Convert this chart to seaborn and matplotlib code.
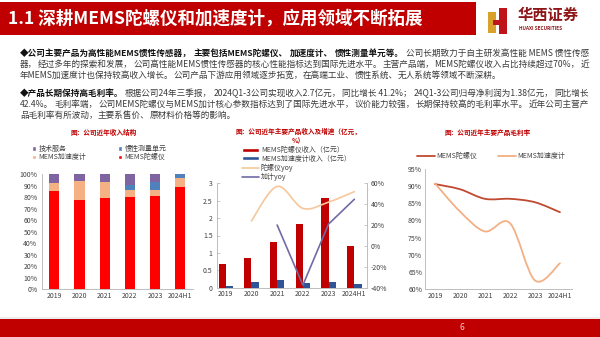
import re
import numpy as np
import pandas as pd
import matplotlib
matplotlib.use("Agg")
import matplotlib.pyplot as plt
from matplotlib.patches import Rectangle, PathPatch, Patch
from matplotlib.path import Path
from matplotlib.lines import Line2D
import seaborn as sns

sns.set_theme(style="white")
plt.rcParams['font.family'] = ['Noto Sans CJK SC', 'DejaVu Sans']
plt.rcParams['axes.unicode_minus'] = False

# ---------------- data ----------------
years = ["2019", "2020", "2021", "2022", "2023", "2024H1"]

# chart 1: revenue structure (%)
share_gyro = [85.8, 77.4, 79.7, 80.3, 81.4, 89.3]
share_accel = [6.4, 16.8, 13.6, 5.8, 5.3, 7.5]
share_imu = [0.0, 0.0, 0.0, 4.9, 6.9, 3.2]
share_service = [7.8, 5.8, 6.7, 9.0, 6.4, 0.0]
c1_labels = ["技术服务", "惯性测量单元", "MEMS加速度计", "MEMS陀螺仪"]
c1_yticks = [0, 10, 20, 30, 40, 50, 60, 70, 80, 90, 100]

# chart 2: revenue (亿元) and yoy (%)
rev_gyro = [0.67, 0.84, 1.32, 1.82, 2.59, 1.21]
rev_accel = [0.05, 0.16, 0.21, 0.13, 0.15, 0.10]
yoy_gyro = [np.nan, 24.0, 57.0, 36.0, 42.0, 52.0]
yoy_accel = [np.nan, np.nan, 20.0, -37.5, 21.0, 44.7]
c2_labels = ["MEMS陀螺仪收入（亿元）", "MEMS加速度计收入（亿元）", "陀螺仪yoy", "加计yoy"]
c2_left_ticks = [0, 0.5, 1, 1.5, 2, 2.5, 3]
c2_left_ticklabels = ["0", "0.5", "1", "1.5", "2", "2.5", "3"]
c2_right_ticks = [-40, -20, 0, 20, 40, 60]

# chart 3: gross margin (%)
gm_gyro = [90.6, 89.1, 86.3, 86.3, 85.3, 82.4]
gm_accel = [90.8, 82.6, 76.8, 79.2, 62.5, 67.5]
c3_labels = ["MEMS陀螺仪", "MEMS加速度计"]
c3_yticks = [60, 65, 70, 75, 80, 85, 90, 95]

title = "1.1 深耕MEMS陀螺仪和加速度计，应用领域不断拓展"
chart_titles = ["图：公司近年收入结构", "图：公司近年主要产品收入及增速（亿元，\n%）", "图：公司近年主要产品毛利率"]
para_lines = [
    [("◆公司主要产品为高性能MEMS惯性传感器，主要包括MEMS陀螺仪、加速度计、惯性测量单元等。", "bold"),
     ("公司长期致力于自主研发高性能 MEMS 惯性传感", "normal")],
    [("器，经过多年的探索和发展，公司高性能MEMS惯性传感器的核心性能指标达到国际先进水平。主营产品端，MEMS陀螺仪收入占比持续超过70%，近", "normal")],
    [("年MEMS加速度计也保持较高收入增长。公司产品下游应用领域逐步拓宽，在高端工业、惯性系统、无人系统等领域不断深耕。", "normal")],
    [("◆产品长期保持高毛利率。", "bold"),
     ("根据公司24年三季报，2024Q1-3公司实现收入2.7亿元，同比增长 41.2%；24Q1-3公司归母净利润为1.38亿元，同比增长", "normal")],
    [("42.4%。毛利率端，公司MEMS陀螺仪与MEMS加计核心参数指标达到了国际先进水平，议价能力较强，长期保持较高的毛利率水平。近年公司主营产", "normal")],
    [("品毛利率有所波动，主要系售价、原材料价格等的影响。", "normal")],
]
para_y = [53, 64.5, 75.5, 93, 104.5, 115.5]
para_justify = [True, True, False, True, True, False]

# ---------------- figure ----------------
W, H = 600, 337
fig = plt.figure(figsize=(6, 3.37), dpi=100)
fig.patch.set_facecolor("white")
renderer = fig.canvas.get_renderer()

def fx(px):
    return px / W

def fy(py):
    return 1 - py / H

RED = "#C00000"

# header band
fig.add_artist(Rectangle((0, fy(35)), fx(476), 33 / H, transform=fig.transFigure,
                         facecolor=RED, edgecolor="none", zorder=0))
t = fig.text(fx(8), fy(18.5), title, color="white", fontsize=12, weight="bold",
             va="center", ha="left")
w = t.get_window_extent(renderer).width
t.set_fontsize(12 * 414 / w)

# logo
fig.add_artist(Rectangle((fx(488), fy(33)), fx(8), 21 / H, transform=fig.transFigure,
                         facecolor="#D9A02B", edgecolor="none"))
fig.add_artist(Rectangle((fx(499), fy(34)), fx(8), 26 / H, transform=fig.transFigure,
                         facecolor="#C0141B", edgecolor="none"))
fig.add_artist(Rectangle((fx(493), fy(25)), fx(7), 5 / H, transform=fig.transFigure,
                         facecolor="#C0141B", edgecolor="none"))
fig.text(fx(518), fy(15), "华西证券", color="#8E1518", fontsize=11, weight="bold",
         va="center", ha="left")
fig.text(fx(519), fy(29), "HUAXI SECURITIES", color="#8E1518", fontsize=3.4,
         weight="bold", va="center", ha="left")

# footer
fig.add_artist(Rectangle((0, fy(318.5)), fx(600), 2 / H, transform=fig.transFigure,
                         facecolor="#EDEDED", edgecolor="none"))
fig.add_artist(Rectangle((0, 0), 1, 18.5 / H, transform=fig.transFigure,
                         facecolor=RED, edgecolor="none"))
fig.text(fx(462), fy(327.5), "6", color="#F6D0D0", fontsize=6, va="center", ha="center")

# body text (justified lines)
def body_line(segments, x0, x1, y, size, justify):
    chunks = []
    for txt, wgt in segments:
        for m in re.finditer(r"[^，、。；]*[，、。；]?", txt):
            s = m.group(0)
            if s:
                chunks.append((s, wgt))
    objs = []
    for s, wgt in chunks:
        col = "#111111" if wgt == "bold" else "#3A3A3A"
        objs.append(fig.text(fx(x0), fy(y), s, fontsize=size, weight=wgt, color=col,
                             va="center", ha="left"))
    widths = [o.get_window_extent(renderer).width for o in objs]
    total = sum(widths)
    target = x1 - x0
    if total > target:
        size = size * target / total * 0.995
        for o in objs:
            o.set_fontsize(size)
        widths = [o.get_window_extent(renderer).width for o in objs]
        total = sum(widths)
    gap = (target - total) / (len(objs) - 1) if (justify and len(objs) > 1) else 0.0
    x = x0
    for o, wd in zip(objs, widths):
        o.set_x(fx(x))
        x += wd + gap

for segs, y, j in zip(para_lines, para_y, para_justify):
    body_line(segs, 20, 589, y, 6.2, j)

# chart titles
fig.text(fx(104), fy(132), chart_titles[0], color=RED, fontsize=4.8, weight="bold",
         ha="center", va="center")
fig.text(fx(298), fy(136), chart_titles[1], color=RED, fontsize=4.8, weight="bold",
         ha="center", va="center", linespacing=1.25)
fig.text(fx(488), fy(132), chart_titles[2], color=RED, fontsize=4.8, weight="bold",
         ha="center", va="center")

TICKC = "#404040"
SPINEC = "#BFBFBF"
FS = 5


def smooth_line(ax, line):
    xs = np.asarray(line.get_xdata(), float)
    ys = np.asarray(line.get_ydata(), float)
    pts = list(zip(xs, ys))
    n = len(pts)
    verts = [pts[0]]
    codes = [Path.MOVETO]
    for i in range(n - 1):
        p0 = pts[i - 1] if i > 0 else pts[i]
        p1 = pts[i]
        p2 = pts[i + 1]
        p3 = pts[i + 2] if i + 2 < n else pts[i + 1]
        c1 = (p1[0] + (p2[0] - p0[0]) / 6, p1[1] + (p2[1] - p0[1]) / 6)
        c2 = (p2[0] - (p3[0] - p1[0]) / 6, p2[1] - (p3[1] - p1[1]) / 6)
        verts += [c1, c2, p2]
        codes += [Path.CURVE4] * 3
    patch = PathPatch(Path(verts, codes), facecolor="none", edgecolor=line.get_color(),
                      lw=line.get_linewidth(), zorder=line.get_zorder(), capstyle="round")
    ax.add_patch(patch)
    line.remove()

# ---------------- chart 1 ----------------
ax1 = fig.add_axes([fx(42.3), fy(289.3), fx(150.4), 115 / H])
df1 = pd.DataFrame({"year": years, "gyro": share_gyro, "accel": share_accel,
                    "imu": share_imu, "service": share_service})
c1_colors = {"gyro": "#FF0000", "accel": "#F4B183", "imu": "#4F81BD", "service": "#8064A2"}
bottom = np.zeros(len(years))
for col in ["gyro", "accel", "imu", "service"]:
    sns.barplot(data=df1, x="year", y=col, color=c1_colors[col], saturation=1,
                width=0.4, bottom=bottom, ax=ax1, linewidth=0)
    bottom = bottom + df1[col].to_numpy()
ax1.set_xlim(-0.48, 5.5)
ax1.set_ylim(0, 100)
ax1.set_yticks(c1_yticks)
ax1.set_yticklabels([f"{v}%" for v in c1_yticks])
ax1.set_xlabel("")
ax1.set_ylabel("")
for s in ["top", "right"]:
    ax1.spines[s].set_visible(False)
for s in ["left", "bottom"]:
    ax1.spines[s].set_color(SPINEC)
    ax1.spines[s].set_linewidth(0.7)
ax1.tick_params(axis="both", labelsize=FS, colors=TICKC, length=0, pad=2)
ax1.tick_params(axis="y", length=2, color=SPINEC, width=0.6, pad=1.5)
h1 = [Patch(facecolor=c1_colors["service"]), Patch(facecolor=c1_colors["accel"]),
      Patch(facecolor=c1_colors["imu"]), Patch(facecolor=c1_colors["gyro"])]
l1 = [c1_labels[0], c1_labels[2], c1_labels[1], c1_labels[3]]
fig.legend(h1, l1, loc="upper left", bbox_to_anchor=(fx(32), fy(145)), ncol=2,
           frameon=False, fontsize=FS, handlelength=0.55, handleheight=0.55,
           handletextpad=0.35, columnspacing=4.6, labelspacing=0.05, borderpad=0,
           borderaxespad=0, labelcolor=TICKC)

# ---------------- chart 2 ----------------
ax2 = fig.add_axes([fx(216.7), fy(287.7), fx(150), 104.4 / H])
df2 = pd.DataFrame({"year": years * 2, "rev": rev_gyro + rev_accel,
                    "series": [c2_labels[0]] * 6 + [c2_labels[1]] * 6})
sns.barplot(data=df2, x="year", y="rev", hue="series", hue_order=c2_labels[:2],
            palette=["#C00000", "#2F5597"], saturation=1, width=0.56, gap=0,
            dodge=True, ax=ax2, legend=False, linewidth=0)
ax2.set_xlim(-0.35, 5.48)
ax2.set_ylim(0, 3)
ax2.set_yticks(c2_left_ticks)
ax2.set_yticklabels(c2_left_ticklabels)
ax2.set_xlabel("")
ax2.set_ylabel("")
ax2r = ax2.twinx()
d = pd.DataFrame({"x": np.arange(6), "y": yoy_gyro}).dropna()
sns.lineplot(data=d, x="x", y="y", ax=ax2r, color="#F5C79A", lw=1.2)
smooth_line(ax2r, ax2r.lines[-1])
d = pd.DataFrame({"x": np.arange(6), "y": yoy_accel}).dropna()
sns.lineplot(data=d, x="x", y="y", ax=ax2r, color="#706BA6", lw=1.2)
ax2r.set_ylim(-40, 60)
ax2r.set_yticks(c2_right_ticks)
ax2r.set_yticklabels([f"{v}%" for v in c2_right_ticks])
ax2r.set_xlabel("")
ax2r.set_ylabel("")
ax2.set_xlim(-0.35, 5.48)
for a in (ax2, ax2r):
    a.spines["top"].set_visible(False)
    for s in ["left", "right", "bottom"]:
        a.spines[s].set_color(SPINEC)
        a.spines[s].set_linewidth(0.7)
ax2.tick_params(axis="both", labelsize=FS, colors=TICKC, length=0, pad=2)
ax2.tick_params(axis="y", direction="in", length=2.5, color=SPINEC, width=0.6, pad=3)
ax2r.tick_params(axis="y", labelsize=FS, colors=TICKC, direction="in", length=2.5,
                 color=SPINEC, width=0.6, pad=3)
h2 = [Patch(facecolor="#C00000"), Patch(facecolor="#2F5597"),
      Line2D([], [], color="#F5C79A", lw=1.2), Line2D([], [], color="#706BA6", lw=1.2)]
fig.legend(h2, c2_labels, loc="upper left", bbox_to_anchor=(fx(242), fy(146)), ncol=1,
           frameon=False, fontsize=FS, handlelength=2.4, handleheight=0.5,
           handletextpad=0.3, labelspacing=0.12, borderpad=0, borderaxespad=0,
           labelcolor=TICKC)

# ---------------- chart 3 ----------------
ax3 = fig.add_axes([fx(425), fy(289), fx(146.7), 120 / H])
d = pd.DataFrame({"x": np.arange(6), "y": gm_gyro})
sns.lineplot(data=d, x="x", y="y", ax=ax3, color="#C0492F", lw=1.3)
smooth_line(ax3, ax3.lines[-1])
d = pd.DataFrame({"x": np.arange(6), "y": gm_accel})
sns.lineplot(data=d, x="x", y="y", ax=ax3, color="#F2B084", lw=1.3)
smooth_line(ax3, ax3.lines[-1])
ax3.set_xlim(-0.4, 5.47)
ax3.set_ylim(60, 95)
ax3.set_xticks(range(6))
ax3.set_xticklabels(years)
ax3.set_yticks(c3_yticks)
ax3.set_yticklabels([f"{v}%" for v in c3_yticks])
ax3.set_xlabel("")
ax3.set_ylabel("")
for s in ["top", "right"]:
    ax3.spines[s].set_visible(False)
for s in ["left", "bottom"]:
    ax3.spines[s].set_color(SPINEC)
    ax3.spines[s].set_linewidth(0.7)
ax3.tick_params(axis="both", labelsize=FS, colors=TICKC, length=0, pad=2)
h3 = [Line2D([], [], color="#C0492F", lw=1.3), Line2D([], [], color="#F2B084", lw=1.3)]
fig.legend(h3, c3_labels, loc="upper left", bbox_to_anchor=(fx(417), fy(152)), ncol=2,
           frameon=False, fontsize=FS, handlelength=2.6, handletextpad=0.2,
           columnspacing=3.0, borderpad=0, borderaxespad=0, labelcolor=TICKC)

fig.savefig("out.png", dpi=100, facecolor="white")
